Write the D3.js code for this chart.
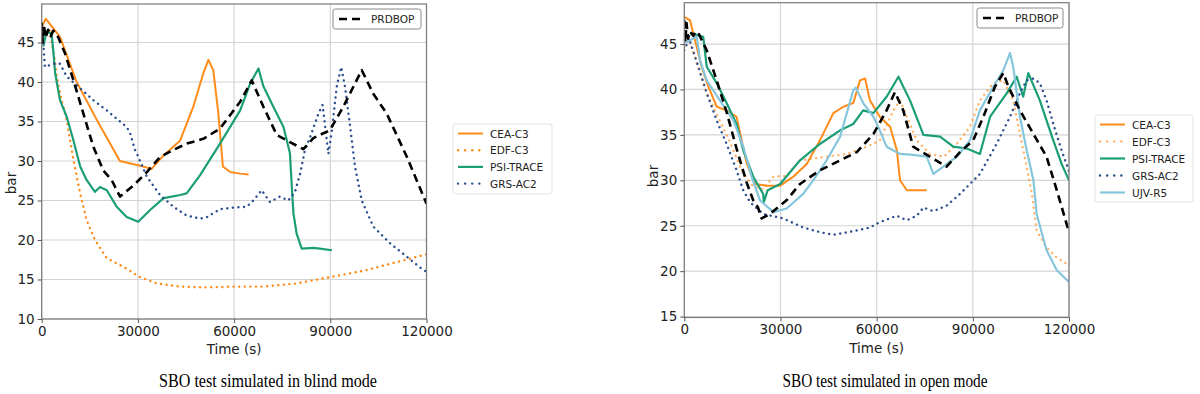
<!DOCTYPE html>
<html>
<head>
<meta charset="utf-8">
<script src="https://cdn.jsdelivr.net/npm/d3@7"></script>
<style>
  body { margin: 0; background: #fff; }
  svg { display: block; }
</style>
</head>
<body>
<svg width="1200" height="394"></svg>
<script>
// time (s), pressure (bar)
const xTicks = [0, 30000, 60000, 90000, 120000];
const blindYTicks = [10, 15, 20, 25, 30, 35, 40, 45];
const openYTicks = [15, 20, 25, 30, 35, 40, 45];

// blind mode
const blindPRDBOP = [[0,47.5],[300,45],[700,47.2],[1200,45.6],[2000,46.6],[2800,45.8],[3600,46.5],[4150,46.3],[4700,46.1],[7300,43.6],[9900,40.2],[13000,36.0],[16100,31.8],[19200,28.8],[21800,27.6],[24400,25.5],[28600,26.9],[32800,28.6],[36900,30.5],[41100,31.4],[45200,32.2],[50400,32.8],[55600,34.1],[61900,37.5],[65500,40.2],[69100,36.9],[73300,33.3],[77400,32.4],[81600,31.5],[84700,32.9],[89900,33.9],[94100,36.9],[99800,41.5],[103400,38.5],[107600,36.0],[113900,30.5],[120000,24.6]];
const blindCEA = [[0,47.0],[1300,48.0],[5700,45.7],[10900,40.0],[17200,35.2],[24400,30.0],[30700,29.4],[34300,29.0],[38000,30.7],[43200,32.6],[47300,36.9],[50400,41.1],[52000,42.8],[53500,41.5],[55100,36.0],[56500,29.3],[58800,28.6],[61900,28.4],[64500,28.3]];
const blindEDF = [[2500,46.5],[4000,43.0],[4700,40.7],[6200,37.7],[7800,35.2],[9900,30.1],[12000,25.9],[14000,22.5],[16600,20.0],[20300,17.7],[25500,16.6],[30700,15.3],[35900,14.5],[43200,14.1],[51500,14.0],[59800,14.1],[69100,14.1],[79500,14.5],[89900,15.3],[100300,16.1],[110700,17.2],[120000,18.2]];
const blindPSI = [[500,44.5],[1500,46.4],[3100,46.1],[3600,44.0],[4200,41.1],[5700,37.7],[7800,35.6],[9900,32.6],[12000,29.3],[14000,27.6],[16600,26.1],[18200,26.7],[20300,26.3],[23400,24.2],[26500,22.9],[30100,22.3],[33800,23.8],[38000,25.3],[43200,25.7],[45200,25.9],[49400,28.2],[55600,32.2],[61900,36.4],[65000,39.8],[67600,41.7],[69100,39.5],[72200,36.9],[75400,34.3],[77400,31.0],[78000,26.7],[78500,23.4],[79500,20.8],[81100,18.9],[84700,19.0],[86800,18.9],[90500,18.7]];
const blindGRS = [[500,44.9],[1000,41.9],[3600,42.3],[5700,42.3],[7800,40.7],[12000,39.2],[16100,37.7],[20300,36.4],[26500,34.3],[27600,33.5],[29100,31.4],[29600,31.0],[32800,28.0],[36900,25.7],[41100,24.2],[45200,23.1],[49400,22.7],[51500,22.9],[55600,23.9],[59800,24.1],[63900,24.2],[66000,25.0],[68600,26.3],[71200,24.8],[74300,25.5],[76900,25.0],[79000,26.1],[80600,28.4],[82100,31.4],[83700,33.0],[86300,36.0],[87600,37.1],[88400,34.3],[89400,30.9],[90500,33.9],[92000,39.4],[93400,41.9],[94600,39.4],[96200,34.3],[97700,29.3],[99800,25.0],[103400,21.7],[108600,19.6],[113800,17.9],[119000,16.2],[120000,16.0]];

// open mode
const openPRDBOP = [[0,47.6],[300,45.2],[700,47.3],[1200,45.6],[1800,46.4],[2800,45.9],[3600,46.4],[4400,46.2],[7000,44.3],[10100,41.0],[13200,37.5],[16300,33.5],[19400,29.8],[21500,27.8],[23000,27.0],[24100,25.8],[26700,26.3],[31900,27.8],[36100,29.6],[42300,31.1],[48600,32.2],[53800,33.1],[59000,35.1],[63100,37.7],[65700,39.7],[68300,37.7],[71400,33.7],[76600,32.6],[81800,31.5],[86000,33.1],[90100,34.4],[93300,37.0],[96900,40.3],[99500,41.8],[101100,40.3],[104700,37.7],[108900,35.1],[113000,32.6],[116200,28.9],[120000,24.3]];
const openCEA = [[0,48.0],[1800,47.6],[2800,46.2],[5400,42.5],[7500,40.3],[10100,38.1],[13200,37.7],[16300,37.0],[17900,34.4],[19500,31.8],[22100,29.6],[25700,29.4],[29900,29.4],[34000,30.4],[38200,31.8],[42300,34.4],[46500,37.4],[49600,38.1],[52700,38.5],[54800,41.0],[56400,41.2],[57900,38.8],[61000,37.0],[64200,35.9],[66300,33.3],[67300,30.0],[69400,28.9],[75600,28.9]];
const openEDF = [[0,44.7],[1500,45.5],[4900,41.8],[7000,39.6],[10500,37.0],[14500,34.0],[18000,31.0],[21500,29.3],[24500,29.0],[27800,30.4],[31900,30.5],[36100,32.2],[44400,32.6],[50700,32.9],[56900,33.7],[61000,34.4],[65200,37.7],[67300,38.8],[69400,37.0],[72500,34.4],[76600,32.9],[81000,32.6],[85000,34.0],[89100,35.9],[92200,38.8],[96400,40.7],[99500,41.0],[102600,38.8],[104700,35.1],[106800,31.5],[108400,28.5],[109900,24.5],[113000,22.6],[116200,21.5],[119300,20.8],[120000,20.6]];
const openPSI = [[1800,46.2],[5900,45.8],[7000,42.5],[10100,40.7],[13200,38.5],[16300,36.2],[18400,33.3],[21500,30.4],[24600,28.5],[24800,27.6],[26000,28.9],[29900,29.6],[36100,32.2],[42300,34.0],[48600,35.5],[52700,36.2],[55800,37.7],[59000,37.4],[63100,39.2],[66800,41.4],[70400,38.8],[74600,35.0],[79800,34.8],[83900,33.7],[88100,33.5],[92200,32.9],[95400,37.0],[100600,39.6],[103700,41.4],[105700,39.2],[107300,41.8],[110900,38.8],[115100,34.4],[117700,31.8],[120000,30.0]];
const openGRS = [[0,44.3],[1500,45.6],[4400,42.5],[7000,39.6],[10100,36.6],[13200,34.0],[16300,31.1],[18400,28.9],[20500,27.6],[24600,26.3],[30900,25.8],[37100,24.8],[42300,24.3],[46500,24.0],[52700,24.4],[57900,24.8],[61000,25.4],[66300,26.1],[69400,25.6],[72500,26.1],[74600,27.0],[77700,26.6],[81800,27.2],[86000,28.5],[89100,29.6],[92200,30.7],[97400,34.0],[101600,37.0],[104700,39.6],[106800,41.0],[108900,41.2],[110900,40.7],[113000,38.8],[115100,36.2],[117700,33.3],[120000,31.0]];
const openUJV = [[0,45.1],[3900,45.8],[4900,43.2],[7000,41.0],[11100,38.8],[15300,36.6],[18400,33.7],[21000,30.4],[23600,27.8],[27800,26.5],[31900,26.9],[37100,28.5],[40200,30.0],[44400,32.2],[48600,34.8],[52700,39.9],[53500,40.2],[55800,38.5],[59000,37.0],[61000,35.5],[63100,33.7],[67300,32.9],[71400,32.8],[75600,32.6],[77700,30.7],[80800,31.5],[85000,32.6],[89100,34.4],[92200,37.7],[96400,40.3],[99500,42.1],[101600,44.0],[102600,42.5],[104700,37.0],[106800,33.3],[108900,30.0],[109900,26.3],[113000,22.3],[116200,20.1],[120000,18.8]];

const svg = d3.select('svg');

const styles = {
  PRDBOP: { color: '#000', width: 2.6, dash: '8,5', cap: 'butt' },
  'CEA-C3': { color: '#ff8c1a', width: 2, dash: null, cap: 'butt' },
  'EDF-C3': { color: '#ff8c1a', width: 2.4, dash: '0.1,5.5', cap: 'round' },
  'PSI-TRACE': { color: '#1b9e77', width: 2.2, dash: null, cap: 'butt' },
  'GRS-AC2': { color: '#2b4f8f', width: 2.4, dash: '0.1,5.5', cap: 'round' },
  'UJV-R5': { color: '#86c6dd', width: 2.2, dash: null, cap: 'butt' },
};

function drawPanel(cfg) {
  const x = d3.scaleLinear().domain([0, 120000]).range(cfg.xRange);
  const y = d3.scaleLinear().domain(cfg.yDomain).range(cfg.yRange);
  const g = svg.append('g');

  // grid
  g.append('g')
    .selectAll('line')
    .data(xTicks)
    .join('line')
    .attr('x1', (d) => x(d))
    .attr('x2', (d) => x(d))
    .attr('y1', cfg.yRange[0])
    .attr('y2', cfg.yRange[1])
    .attr('stroke', '#d4d4d4')
    .attr('stroke-width', 1.2);
  g.append('g')
    .selectAll('line')
    .data(cfg.yTicks)
    .join('line')
    .attr('x1', cfg.xRange[0])
    .attr('x2', cfg.xRange[1])
    .attr('y1', (d) => y(d))
    .attr('y2', (d) => y(d))
    .attr('stroke', '#d4d4d4')
    .attr('stroke-width', 1.2);

  const clipId = 'clip' + cfg.id;
  svg.append('clipPath').attr('id', clipId)
    .append('rect')
    .attr('x', cfg.xRange[0]).attr('y', cfg.yRange[1])
    .attr('width', cfg.xRange[1] - cfg.xRange[0])
    .attr('height', cfg.yRange[0] - cfg.yRange[1]);

  const line = d3.line().x((d) => x(d[0])).y((d) => y(d[1]));
  const lines = g.append('g').attr('clip-path', `url(#${clipId})`);
  cfg.series.forEach((s) => {
    const st = styles[s.name];
    lines.append('path')
      .datum(s.data)
      .attr('d', line)
      .attr('fill', 'none')
      .attr('stroke', st.color)
      .attr('stroke-opacity', s.opacity || 1)
      .attr('stroke-width', st.width)
      .attr('stroke-dasharray', st.dash)
      .attr('stroke-linecap', st.cap)
      .attr('stroke-linejoin', 'round');
  });

  // frame
  g.append('rect')
    .attr('x', cfg.xRange[0]).attr('y', cfg.yRange[1])
    .attr('width', cfg.xRange[1] - cfg.xRange[0])
    .attr('height', cfg.yRange[0] - cfg.yRange[1])
    .attr('fill', 'none')
    .attr('stroke', '#7a7a7a')
    .attr('stroke-width', 1.2);

  const xAxis = g.append('g')
    .attr('transform', `translate(0,${cfg.yRange[0]})`)
    .call(d3.axisBottom(x).tickValues(xTicks).tickFormat(d3.format('d')).tickSize(4).tickPadding(3));
  const yAxis = g.append('g')
    .attr('transform', `translate(${cfg.xRange[0]},0)`)
    .call(d3.axisLeft(y).tickValues(cfg.yTicks).tickSize(4).tickPadding(3));
  [xAxis, yAxis].forEach((a) => {
    a.select('.domain').remove();
    a.selectAll('line').attr('stroke', '#555');
    a.selectAll('text')
      .attr('fill', '#222')
      .style('font-family', 'DejaVu Sans, sans-serif')
      .style('font-size', '13.5px');
  });

  g.append('text')
    .attr('x', (cfg.xRange[0] + cfg.xRange[1]) / 2)
    .attr('y', cfg.yRange[0] + 35)
    .attr('text-anchor', 'middle')
    .attr('fill', '#222')
    .style('font-family', 'DejaVu Sans, sans-serif')
    .style('font-size', '13.5px')
    .text('Time (s)');
  g.append('text')
    .attr('transform', `translate(${cfg.xRange[0] - 26},${cfg.yLabelY}) rotate(-90)`)
    .attr('text-anchor', 'middle')
    .attr('fill', '#222')
    .style('font-family', 'DejaVu Sans, sans-serif')
    .style('font-size', '13.5px')
    .text('bar');

  // PRDBOP legend inside
  const lb = cfg.innerLegend;
  const il = g.append('g').attr('transform', `translate(${lb[0]},${lb[1]})`);
  il.append('rect')
    .attr('width', lb[2]).attr('height', 20).attr('rx', 2.5)
    .attr('fill', '#fff').attr('stroke', '#8a8a8a').attr('stroke-width', 1);
  il.append('line')
    .attr('x1', 6).attr('x2', 29).attr('y1', 10).attr('y2', 10)
    .attr('stroke', '#000').attr('stroke-width', 2.4).attr('stroke-dasharray', '8,5');
  il.append('text')
    .attr('x', 38).attr('y', 14)
    .attr('fill', '#222')
    .style('font-family', 'DejaVu Sans, sans-serif')
    .style('font-size', '10.5px')
    .text('PRDBOP');

  // outer legend
  const ob = cfg.outerLegend;
  const names = cfg.series.filter((s) => s.name !== 'PRDBOP');
  const ol = svg.append('g').attr('transform', `translate(${ob[0]},${ob[1]})`);
  ol.append('rect')
    .attr('width', ob[2]).attr('height', ob[3]).attr('rx', 2.5)
    .attr('fill', '#fff').attr('stroke', '#e2e2e2').attr('stroke-width', 1);
  names.forEach((s, i) => {
    const st = styles[s.name];
    const yy = cfg.legendY0 + i * cfg.legendStep;
    ol.append('line')
      .attr('x1', 5).attr('x2', 30).attr('y1', yy).attr('y2', yy)
      .attr('stroke', st.color)
      .attr('stroke-opacity', s.opacity || 1)
      .attr('stroke-width', st.width)
      .attr('stroke-dasharray', st.dash ? '0.1,7' : null)
      .attr('stroke-linecap', st.cap);
    ol.append('text')
      .attr('x', 37).attr('y', yy + 4)
      .attr('fill', '#222')
      .style('font-family', 'DejaVu Sans, sans-serif')
      .style('font-size', '10.5px')
      .text(s.name);
  });

  svg.append('text')
    .attr('x', cfg.captionX)
    .attr('y', 387)
    .attr('text-anchor', 'middle')
    .attr('textLength', cfg.captionW)
    .attr('lengthAdjust', 'spacingAndGlyphs')
    .attr('fill', '#000')
    .style('font-family', 'Liberation Serif, Times New Roman, serif')
    .style('font-size', '18px')
    .text(cfg.caption);
}

drawPanel({
  id: 'blind',
  xRange: [41.7, 426.5],
  yDomain: [10, 49.87],
  yRange: [319, 4],
  yTicks: blindYTicks,
  yLabelY: 183,
  innerLegend: [333, 9, 88],
  outerLegend: [453, 124, 99, 70],
  legendY0: 9.5,
  legendStep: 16.7,
  caption: 'SBO test simulated in blind mode',
  captionX: 268,
  captionW: 218,
  series: [
    { name: 'CEA-C3', data: blindCEA },
    { name: 'EDF-C3', data: blindEDF },
    { name: 'PSI-TRACE', data: blindPSI },
    { name: 'GRS-AC2', data: blindGRS },
    { name: 'PRDBOP', data: blindPRDBOP },
  ],
});

drawPanel({
  id: 'open',
  xRange: [684.3, 1069],
  yDomain: [14.9, 49.55],
  yRange: [317.5, 2.7],
  yTicks: openYTicks,
  yLabelY: 176,
  innerLegend: [977, 8, 86],
  outerLegend: [1095, 115, 98, 87],
  legendY0: 9.5,
  legendStep: 17,
  caption: 'SBO test simulated in open mode',
  captionX: 885,
  captionW: 205,
  series: [
    { name: 'CEA-C3', data: openCEA },
    { name: 'EDF-C3', data: openEDF, opacity: 0.65 },
    { name: 'PSI-TRACE', data: openPSI },
    { name: 'GRS-AC2', data: openGRS },
    { name: 'UJV-R5', data: openUJV },
    { name: 'PRDBOP', data: openPRDBOP },
  ],
});
</script>
</body>
</html>
